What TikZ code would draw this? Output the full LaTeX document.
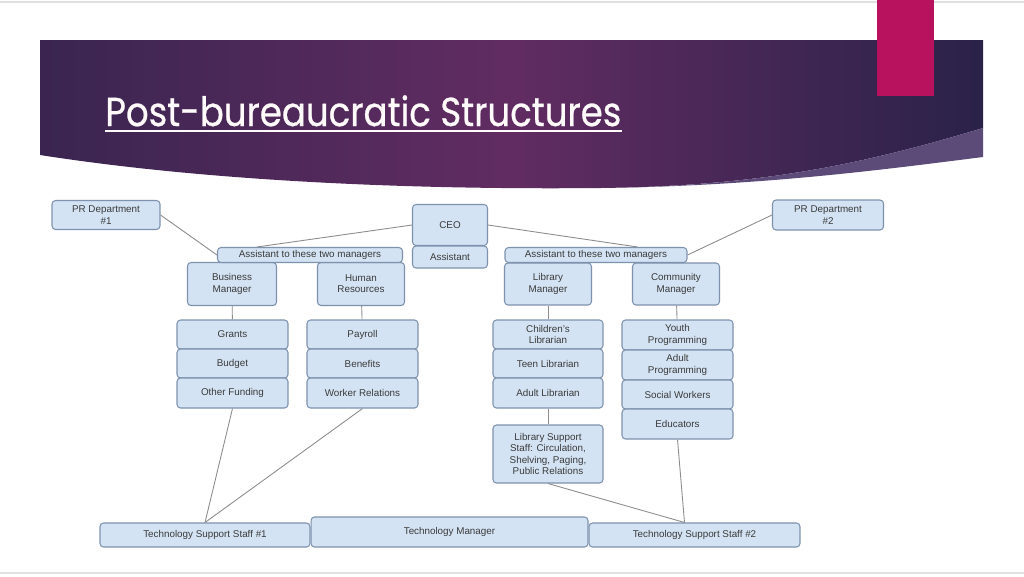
\documentclass[tikz,border=0pt]{standalone}
\usepackage{fontspec}
\usepackage{graphicx}
\setmainfont{Liberation Sans}
\newfontfamily\titlefont{Poppins}[FakeBold=0.7]
\usetikzlibrary{positioning}

\definecolor{boxfill}{HTML}{D3E3F3}
\definecolor{boxline}{HTML}{7E92AE}
\definecolor{boxtext}{HTML}{3A3A3A}
\definecolor{conncol}{HTML}{8C8C8C}
\definecolor{darkpurple}{HTML}{3A2550}
\definecolor{midpurple}{HTML}{612C62}
\definecolor{rightpurple}{HTML}{2A2249}
\definecolor{lavender}{HTML}{5C4B78}
\definecolor{pinkbar}{HTML}{B8125F}

\tikzset{
    orgbox/.style={draw=boxline, fill=boxfill, rounded corners=2pt, line width=0.6pt,
        text=boxtext, align=center, inner sep=0pt,
        font=\fontsize{5.6}{6.4}\selectfont},
    conn/.style={draw=conncol, line width=0.5pt}
}

\begin{document}
\begin{tikzpicture}[x=0.02cm, y=-0.02cm]
        \useasboundingbox (0, 0) rectangle (1024, 576);
        \fill[white] (0, 0) rectangle (1024, 576);
        \draw[black!12, line width=0.6pt] (0, 2) -- (1024, 2);
        \draw[black!12, line width=0.6pt] (0, 573) -- (1024, 573);

        %Banner
        \shade[left color=darkpurple, right color=rightpurple, middle color=midpurple]
            (40, 40) -- (983, 40) -- (983, 128)
            .. controls (860, 165) and (760, 186) .. (600, 188)
            .. controls (400, 190) and (200, 180) .. (40, 155) -- cycle;
        \fill[lavender] (983, 128)
            .. controls (860, 165) and (760, 186) .. (600, 188)
            .. controls (760, 186) and (880, 170) .. (983, 157) -- cycle;
        \fill[pinkbar] (877, 0) rectangle (934, 96);

        %Titulo
        \node[anchor=base west, inner sep=0pt, text=white!94!pink,
            font=\titlefont\fontsize{23}{26}\selectfont] (title) at (105, 126)
            {\scalebox{0.88}[1]{Post-bureaucratic Structures}};
        \draw[white!94!pink, line width=1.2pt] (105, 131) -- (title.east |- 0, 131);

        %Topo
        \node[orgbox, minimum width=2.16cm, minimum height=0.58cm] (pr1) at (106, 215) {PR Department\\\#1};
        \node[orgbox, minimum width=1.5cm, minimum height=0.82cm] (ceo) at (450, 225) {CEO};
        \node[orgbox, minimum width=1.5cm, minimum height=0.44cm] (asst) at (450, 257) {Assistant};
        \node[orgbox, minimum width=2.22cm, minimum height=0.6cm] (pr2) at (828, 215) {PR Department\\\#2};

        %Gerentes
        \node[orgbox, minimum width=1.78cm, minimum height=0.86cm] (bm) at (232, 284) {Business\\Manager};
        \node[orgbox, minimum width=1.74cm, minimum height=0.86cm] (hr) at (361, 284) {Human\\Resources};
        \node[orgbox, minimum width=1.74cm, minimum height=0.84cm] (lm) at (548, 284) {Library\\Manager};
        \node[orgbox, minimum width=1.74cm, minimum height=0.84cm] (cm) at (676, 284) {Community\\Manager};
        \node[orgbox, minimum width=3.7cm, minimum height=0.3cm] (asl) at (310, 255) {Assistant to these two managers};
        \node[orgbox, minimum width=3.64cm, minimum height=0.3cm] (asr) at (596, 255) {Assistant to these two managers};

        %Colunas
        \node[orgbox, minimum width=2.22cm, minimum height=0.58cm] (gr) at (232.5, 334.5) {Grants};
        \node[orgbox, minimum width=2.22cm, minimum height=0.58cm] (bu) at (232.5, 363.5) {Budget};
        \node[orgbox, minimum width=2.22cm, minimum height=0.6cm] (of) at (232.5, 393) {Other Funding};
        \node[orgbox, minimum width=2.22cm, minimum height=0.58cm] (pa) at (362.5, 334.5) {Payroll};
        \node[orgbox, minimum width=2.22cm, minimum height=0.58cm] (be) at (362.5, 363.5) {Benefits};
        \node[orgbox, minimum width=2.22cm, minimum height=0.6cm] (wr) at (362.5, 393) {Worker Relations};
        \node[orgbox, minimum width=2.2cm, minimum height=0.58cm] (cl) at (548, 334.5) {Children's\\Librarian};
        \node[orgbox, minimum width=2.2cm, minimum height=0.58cm] (tl) at (548, 363.5) {Teen Librarian};
        \node[orgbox, minimum width=2.2cm, minimum height=0.6cm] (al) at (548, 393) {Adult Librarian};
        \node[orgbox, minimum width=2.2cm, minimum height=1.16cm] (ls) at (548, 454)
            {Library Support\\Staff: Circulation,\\Shelving, Paging,\\Public Relations};
        \node[orgbox, minimum width=2.22cm, minimum height=0.6cm] (yp) at (677.5, 335) {Youth\\Programming};
        \node[orgbox, minimum width=2.22cm, minimum height=0.6cm] (ap) at (677.5, 365) {Adult\\Programming};
        \node[orgbox, minimum width=2.22cm, minimum height=0.58cm] (sw) at (677.5, 394.5) {Social Workers};
        \node[orgbox, minimum width=2.22cm, minimum height=0.6cm] (ed) at (677.5, 424) {Educators};

        %Base
        \node[orgbox, minimum width=4.2cm, minimum height=0.48cm] (t1) at (205, 535) {Technology Support Staff \#1};
        \node[orgbox, minimum width=5.54cm, minimum height=0.6cm] (tm) at (449.5, 532) {Technology Manager};
        \node[orgbox, minimum width=4.22cm, minimum height=0.48cm] (t2) at (694.5, 535) {Technology Support Staff \#2};

        %Linhas
        \draw[conn] (pr1.east) -- (asl.west);
        \draw[conn] (ceo.west) -- ([xshift=0.8cm]asl.north west);
        \draw[conn] (ceo.east) -- ([xshift=-1cm]asr.north east);
        \draw[conn] (pr2.west) -- (asr.east);
        \draw[conn] (bm) -- (gr);
        \draw[conn] (hr) -- (pa);
        \draw[conn] (lm) -- (cl);
        \draw[conn] (cm) -- (yp);
        \draw[conn] (al) -- (ls);
        \draw[conn] (of.south) -- (t1.north);
        \draw[conn] (wr.south) -- (t1.north);
        \draw[conn] (ls.south) -- ([xshift=-0.2cm]t2.north);
        \draw[conn] (ed.south) -- ([xshift=-0.2cm]t2.north);

    \end{tikzpicture}
\end{document}
